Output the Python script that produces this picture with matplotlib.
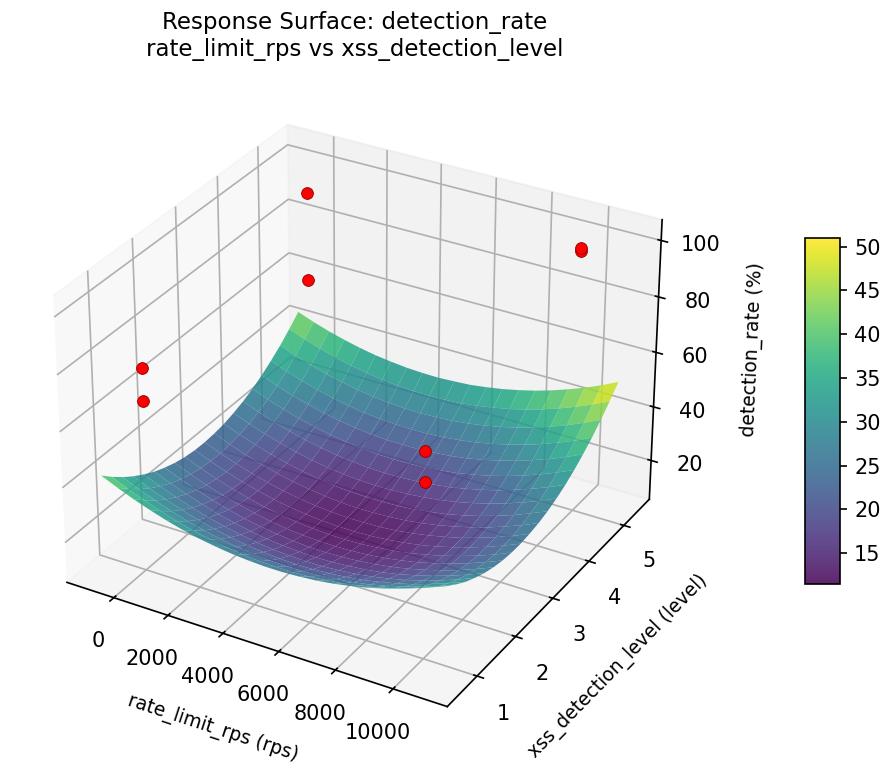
"""Response surface of detection_rate over rate limit and XSS detection level."""

import matplotlib

matplotlib.use("Agg")
import matplotlib.pyplot as plt
import numpy as np

rate_limit = [-890, -296, 298, 892, 1486, 2080, 2674, 3268, 3862, 4456, 5050,
              5644, 6238, 6832, 7426, 8020, 8614, 9208, 9802, 10396, 10990]
xss_level = [0.6, 0.84, 1.08, 1.32, 1.56, 1.8, 2.04, 2.28, 2.52, 2.76, 3.0,
             3.24, 3.48, 3.72, 3.96, 4.2, 4.44, 4.68, 4.92, 5.16, 5.4]

# one row per xss level
detection_grid = [
    [42.5, 39.9, 37.5, 35.4, 33.5, 31.9, 30.6, 29.6, 28.8, 28.3, 28.0, 28.0, 28.3, 28.8, 29.6, 30.7, 32.0, 33.6, 35.5, 37.6, 40.0],
    [38.9, 36.3, 34.0, 31.9, 30.0, 28.5, 27.2, 26.2, 25.4, 24.9, 24.7, 24.7, 25.0, 25.6, 26.4, 27.5, 28.8, 30.4, 32.3, 34.5, 36.9],
    [35.7, 33.1, 30.8, 28.7, 26.9, 25.4, 24.1, 23.1, 22.4, 21.9, 21.7, 21.8, 22.1, 22.7, 23.5, 24.6, 26.0, 27.7, 29.6, 31.7, 34.2],
    [32.9, 30.3, 28.0, 26.0, 24.2, 22.7, 21.5, 20.5, 19.8, 19.3, 19.1, 19.2, 19.6, 20.2, 21.0, 22.2, 23.6, 25.2, 27.2, 29.4, 31.8],
    [30.5, 27.9, 25.7, 23.6, 21.9, 20.4, 19.2, 18.2, 17.5, 17.1, 16.9, 17.0, 17.4, 18.0, 18.9, 20.1, 21.5, 23.2, 25.2, 27.4, 29.9],
    [28.4, 25.9, 23.7, 21.7, 19.9, 18.5, 17.3, 16.3, 15.7, 15.3, 15.1, 15.3, 15.7, 16.3, 17.2, 18.4, 19.9, 21.6, 23.6, 25.8, 28.3],
    [26.8, 24.3, 22.1, 20.1, 18.4, 16.9, 15.8, 14.9, 14.2, 13.8, 13.7, 13.9, 14.3, 15.0, 15.9, 17.1, 18.6, 20.3, 22.3, 24.6, 27.1],
    [25.5, 23.0, 20.8, 18.9, 17.2, 15.8, 14.6, 13.7, 13.1, 12.8, 12.7, 12.9, 13.3, 14.0, 15.0, 16.2, 17.7, 19.5, 21.5, 23.8, 26.3],
    [24.6, 22.2, 20.0, 18.1, 16.4, 15.0, 13.9, 13.0, 12.4, 12.1, 12.0, 12.2, 12.7, 13.4, 14.4, 15.7, 17.2, 19.0, 21.0, 23.3, 25.9],
    [24.1, 21.7, 19.5, 17.6, 16.0, 14.6, 13.5, 12.7, 12.1, 11.8, 11.8, 12.0, 12.5, 13.2, 14.2, 15.5, 17.1, 18.9, 21.0, 23.3, 25.9],
    [24.0, 21.6, 19.5, 17.6, 16.0, 14.6, 13.6, 12.7, 12.2, 11.9, 11.9, 12.1, 12.6, 13.4, 14.5, 15.8, 17.3, 19.2, 21.3, 23.6, 26.3],
    [24.3, 21.9, 19.8, 17.9, 16.3, 15.0, 14.0, 13.2, 12.6, 12.4, 12.4, 12.7, 13.2, 14.0, 15.1, 16.4, 18.0, 19.8, 22.0, 24.3, 27.0],
    [24.9, 22.6, 20.5, 18.7, 17.1, 15.8, 14.8, 14.0, 13.5, 13.3, 13.3, 13.6, 14.1, 15.0, 16.0, 17.4, 19.0, 20.9, 23.0, 25.5, 28.1],
    [26.0, 23.6, 21.6, 19.8, 18.2, 16.9, 15.9, 15.2, 14.7, 14.5, 14.6, 14.9, 15.5, 16.3, 17.4, 18.8, 20.4, 22.3, 24.5, 26.9, 29.6],
    [27.4, 25.1, 23.0, 21.3, 19.7, 18.5, 17.5, 16.8, 16.3, 16.1, 16.2, 16.6, 17.2, 18.0, 19.2, 20.6, 22.2, 24.2, 26.4, 28.8, 31.5],
    [29.2, 26.9, 24.9, 23.1, 21.6, 20.4, 19.5, 18.8, 18.3, 18.2, 18.3, 18.6, 19.3, 20.1, 21.3, 22.7, 24.4, 26.4, 28.6, 31.1, 33.8],
    [31.4, 29.1, 27.1, 25.4, 23.9, 22.7, 21.8, 21.1, 20.7, 20.6, 20.7, 21.1, 21.7, 22.6, 23.8, 25.3, 27.0, 29.0, 31.2, 33.7, 36.5],
    [34.0, 31.7, 29.8, 28.0, 26.6, 25.4, 24.5, 23.9, 23.5, 23.4, 23.5, 23.9, 24.6, 25.5, 26.7, 28.2, 29.9, 31.9, 34.2, 36.7, 39.5],
    [36.9, 34.7, 32.8, 31.1, 29.7, 28.5, 27.6, 27.0, 26.6, 26.5, 26.7, 27.1, 27.8, 28.8, 30.0, 31.5, 33.3, 35.3, 37.6, 40.2, 43.0],
    [40.3, 38.1, 36.2, 34.5, 33.1, 32.0, 31.1, 30.5, 30.2, 30.1, 30.3, 30.7, 31.5, 32.5, 33.7, 35.2, 37.0, 39.1, 41.4, 44.0, 46.8],
    [44.0, 41.8, 39.9, 38.3, 36.9, 35.8, 35.0, 34.4, 34.1, 34.0, 34.3, 34.7, 35.5, 36.5, 37.8, 39.3, 41.1, 43.2, 45.5, 48.1, 51.0],
]

point_rate = [100, 100, 100, 100, 10000, 10000, 10000, 10000]
point_level = [1, 1, 5, 5, 1, 1, 5, 5]
point_detection = [78.7, 67, 95.2, 63.4, 78.7, 68, 100.8, 99.7]

fig = plt.figure(figsize=(896 / 150, 765 / 150), dpi=150)
ax = fig.add_axes([-0.002, 0.0205, 0.795, 0.885], projection="3d")

X, Y = np.meshgrid(rate_limit, xss_level)
Z = np.array(detection_grid)
surf = ax.plot_surface(X, Y, Z, cmap="viridis", alpha=0.85, linewidth=0,
                       antialiased=True, vmin=11.5, vmax=51)
ax.scatter(point_rate, point_level, point_detection, c="red", s=32,
           edgecolors="darkred", linewidths=0.4, depthshade=False)

ax.set_xlabel("rate_limit_rps (rps)", fontsize=9, labelpad=8)
ax.set_ylabel("xss_detection_level (level)", fontsize=9, labelpad=8)
ax.set_zlabel("detection_rate (%)", fontsize=9, labelpad=8)
ax.set_xticks([0, 2000, 4000, 6000, 8000, 10000])
ax.set_yticks([1, 2, 3, 4, 5])
ax.set_zticks([20, 40, 60, 80, 100])
ax.tick_params(labelsize=10)
fig.suptitle("Response Surface: detection_rate\nrate_limit_rps vs xss_detection_level",
             fontsize=11, x=0.396, y=0.985)

cax = fig.add_axes([0.898, 0.237, 0.039, 0.452])
fig.colorbar(surf, cax=cax)
cax.tick_params(labelsize=10)

fig.savefig("out.png", dpi=150)
